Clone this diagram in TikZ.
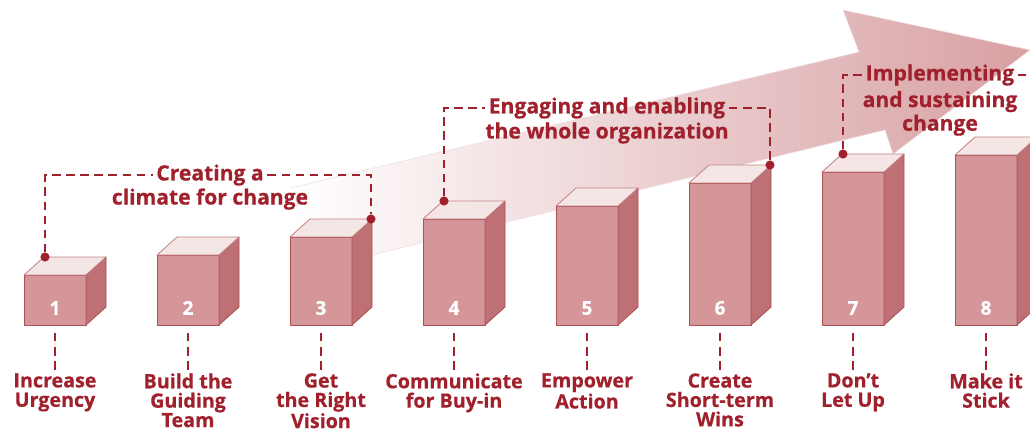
\documentclass[tikz,border=0pt]{standalone}
\usepackage{fontspec}
\setmainfont{Open Sans}[BoldFeatures={FakeBold=0.6}]
\usepackage{xcolor}
\usetikzlibrary{positioning,calc}

\definecolor{darkred}{RGB}{160,32,44}
\definecolor{boxfront}{RGB}{212,150,153}
\definecolor{boxside}{RGB}{190,112,116}
\definecolor{boxtop}{RGB}{245,230,230}
\definecolor{boxline}{RGB}{172,80,84}
\definecolor{arrowpink}{RGB}{216,160,163}

\begin{document}
\begin{tikzpicture}[x=0.025cm, y=-0.025cm,
    front/.style={fill=boxfront, draw=boxline, line width=0.6pt, line join=round},
    side/.style={fill=boxside, draw=boxline, line width=0.6pt, line join=round},
    lid/.style={fill=boxtop, draw=boxline!70, line width=0.6pt, line join=round},
    num/.style={text=white, font=\fontsize{13.5}{13.5}\selectfont\bfseries},
    lbl/.style={text=darkred, align=center, inner sep=0pt, font=\fontsize{14}{13.8}\selectfont\bfseries},
    brk/.style={text=darkred, inner sep=2.5pt, font=\fontsize{15}{15}\selectfont\bfseries},
    brk2/.style={text=darkred, align=center, inner sep=0pt, font=\fontsize{15}{16.8}\selectfont\bfseries},
    dashline/.style={draw=darkred, line width=2pt, dash pattern=on 6pt off 4pt},
    pin/.style={circle, fill=darkred, inner sep=0pt, minimum size=6.5pt}]

    \clip (0,0) rectangle (1030,432);

    % Rising arrow
    \shade[left color=white, middle color=arrowpink!50, right color=arrowpink, draw=arrowpink!35]
      (290,188) -- (859,52) -- (843,10) -- (1030,50) -- (893,154) -- (885,130) -- (290,275);

    % Boxes
    \foreach \i/\t in {1/275,2/255,3/237,4/219,5/206,6/183,7/172,8/155} {
      \pgfmathsetmacro{\xl}{24+133*(\i-1)}
      \draw[front] (\xl,\t) rectangle (\xl+62,325);
      \draw[side] (\xl+62,\t) -- ++(20,-18) -- (\xl+82,307) -- (\xl+62,325) -- cycle;
      \draw[lid] (\xl,\t) -- ++(20,-18) -- ++(62,0) -- (\xl+62,\t) -- cycle;
      \node[num] (n\i) at (\xl+31,308) {\i};
      \coordinate (b\i) at (\xl+31,333);
      \coordinate (tl\i) at (\xl+21,\t-18);
      \coordinate (tr\i) at (\xl+81,\t-18);
    }

    % Steps
    \node[lbl, below=1.0cm of b1] (l1) {Increase\\Urgency};
    \node[lbl, below=1.0cm of b2] (l2) {Build the\\Guiding\\Team};
    \node[lbl, below=1.0cm of b3] (l3) {Get\\the Right\\Vision};
    \node[lbl, below=1.0cm of b4] (l4) {Communicate\\for Buy-in};
    \node[lbl, below=1.0cm of b5] (l5) {Empower\\Action};
    \node[lbl, below=1.0cm of b6] (l6) {Create\\Short-term\\Wins};
    \node[lbl, below=1.0cm of b7] (l7) {Don't\\Let Up};
    \node[lbl, below=1.0cm of b8] (l8) {Make it\\Stick};
    \foreach \i in {1,...,8}
      \draw[dashline] (b\i) -- (l\i);

    % Pins
    \node[pin] (p1) at (tl1) {};
    \node[pin] (p3) at (tr3) {};
    \node[pin] (p4) at (tl4) {};
    \node[pin] (p6) at (tr6) {};
    \node[pin] (p7) at (tl7) {};
    \coordinate (e8) at (1045,75);

    % Phase 1
    \node[brk] (c1) at (210,175) {Creating a};
    \node[brk2] (c1b) at (210,199) {climate for change};
    \draw[dashline] (p1) |- (c1.west);
    \draw[dashline] (c1.east) -| (p3);

    % Phase 2
    \node[brk] (g2) at (607,108) {Engaging and enabling};
    \node[brk2] (g2b) at (607,133) {the whole organization};
    \draw[dashline] (p4) |- (g2.west);
    \draw[dashline] (g2.east) -| (p6);

    % Phase 3
    \node[brk] (i3) at (940,75) {Implementing};
    \node[brk2, below=1pt of i3] (i3b) {and sustaining\\change};
    \draw[dashline] (p7) |- (i3.west);
    \draw[dashline] (i3.east) -- (e8);

\end{tikzpicture}
\end{document}
